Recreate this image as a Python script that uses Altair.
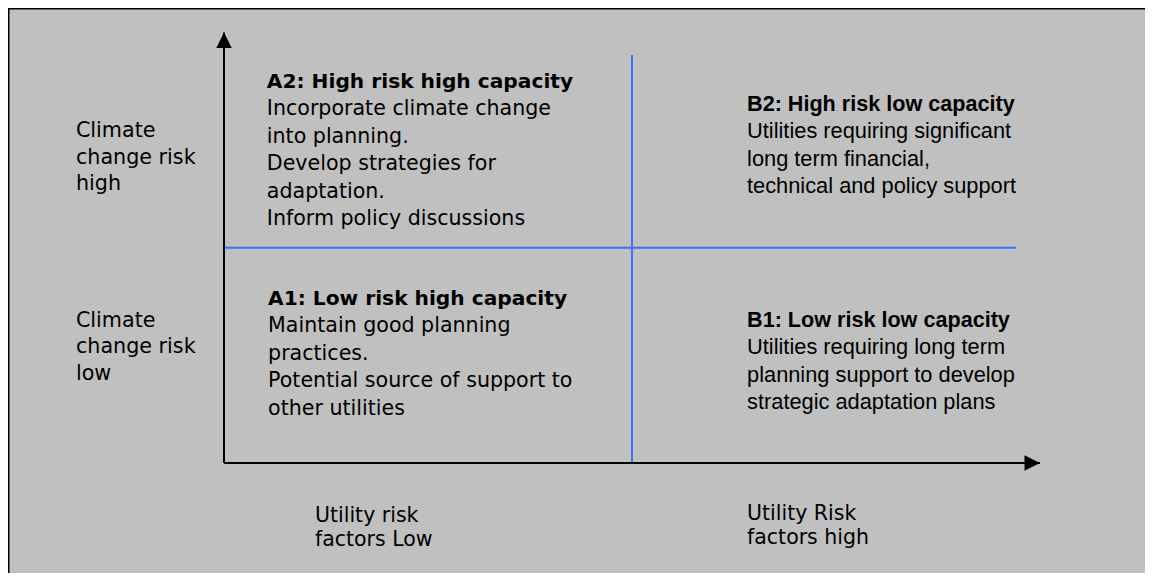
import altair as alt
import pandas as pd

# ---- diagram content (data units: axis origin = 0, quadrant split = 1, arrow tips = 2)
left_titles = ["A2: High risk high capacity", "A1: Low risk high capacity"]
left_bodies = [
    "Incorporate climate change\ninto planning.\nDevelop strategies for\nadaptation.\nInform policy discussions",
    "Maintain good planning\npractices.\nPotential source of support to\nother utilities",
]
left_x = [0.105, 0.108]
left_title_y = [1.742, 0.734]
left_body_y = [1.616, 0.608]

right_titles = ["B2: High risk low capacity", "B1: Low risk low capacity"]
right_bodies = [
    "Utilities requiring significant\nlong term financial,\ntechnical and policy support",
    "Utilities requiring long term\nplanning support to develop\nstrategic adaptation plans",
]
right_x = [1.282, 1.282]
right_title_y = [1.635, 0.632]
right_body_y = [1.510, 0.506]

y_labels = ["Climate\nchange risk\nhigh", "Climate\nchange risk\nlow"]
y_label_x = [-0.363, -0.363]
y_label_y = [1.514, 0.632]

x_labels = ["Utility risk\nfactors Low", "Utility Risk\nfactors high"]
x_label_x = [0.223, 1.282]
x_label_y = [-0.274, -0.265]

# axis segments (black) and quadrant dividers (blue)
axis_x = [0, 0]
axis_y = [0, 0]
axis_x2 = [0, 2]
axis_y2 = [2, 0]

div_x = [1, 0]
div_y = [0, 1]
div_x2 = [1, 1.941]
div_y2 = [1.895, 1]

arrow_x = [0, 2]
arrow_y = [2, 0]
arrow_shape = ["M0,0L-1,2L1,2Z", "M0,0L-2,-1L-2,1Z"]

W, H = 1137, 565
XDOM = [-0.5294, 2.2574]
YDOM = [-0.5109, 2.1133]
FONT = "DejaVu Sans"
FONT_R = "Liberation Sans"

xs = alt.Scale(domain=XDOM, nice=False, zero=False)
ys = alt.Scale(domain=YDOM, nice=False, zero=False)

def X(f):
    return alt.X(f, type="quantitative", scale=xs, axis=None)

def Y(f):
    return alt.Y(f, type="quantitative", scale=ys, axis=None)

axes_df = pd.DataFrame({"x": axis_x, "y": axis_y, "x2": axis_x2, "y2": axis_y2})
div_df = pd.DataFrame({"x": div_x, "y": div_y, "x2": div_x2, "y2": div_y2})
arrow_df = pd.DataFrame({"x": arrow_x, "y": arrow_y, "shape": arrow_shape})
lt_df = pd.DataFrame({"x": left_x, "y": left_title_y, "t": left_titles})
lb_df = pd.DataFrame({"x": left_x, "y": left_body_y, "t": left_bodies})
rt_df = pd.DataFrame({"x": right_x, "y": right_title_y, "t": right_titles})
rb_df = pd.DataFrame({"x": right_x, "y": right_body_y, "t": right_bodies})
ylab_df = pd.DataFrame({"x": y_label_x, "y": y_label_y, "t": y_labels})
xlab_df = pd.DataFrame({"x": x_label_x, "y": x_label_y, "t": x_labels})

dividers = alt.Chart(div_df).mark_rule(color="#3F6FFF", strokeWidth=2).encode(
    x=X("x"), y=Y("y"), x2="x2", y2="y2"
)
axes = alt.Chart(axes_df).mark_rule(color="black", strokeWidth=2).encode(
    x=X("x"), y=Y("y"), x2="x2", y2="y2"
)
arrows = alt.Chart(arrow_df).mark_point(
    filled=True, color="black", opacity=1, size=240, strokeWidth=0
).encode(
    x=X("x"), y=Y("y"),
    shape=alt.Shape("shape:N", scale=None, legend=None),
)

border_left = alt.Chart(axes_df.head(1)).mark_rule(color="black", strokeWidth=3).encode(
    x=alt.value(0), y=alt.value(0), y2=alt.value(H)
)
border_top = alt.Chart(axes_df.head(1)).mark_rule(color="black", strokeWidth=3).encode(
    x=alt.value(0), x2=alt.value(W), y=alt.value(0)
)

def text_layer(df, size, font=FONT, bold=False, line_height=None):
    kw = dict(align="left", baseline="alphabetic", font=font, fontSize=size, color="black")
    if bold:
        kw["fontWeight"] = "bold"
    if line_height is not None:
        kw["lineBreak"] = "\n"
        kw["lineHeight"] = line_height
    return alt.Chart(df).mark_text(**kw).encode(x=X("x"), y=Y("y"), text="t:N")

left_t = text_layer(lt_df, 20.2, bold=True)
left_b = text_layer(lb_df, 20.6, line_height=27.5)
right_t = text_layer(rt_df, 21.6, font=FONT_R, bold=True)
right_b = text_layer(rb_df, 21.8, font=FONT_R, line_height=27.7)
ylabs = text_layer(ylab_df, 20.7, line_height=26.5)
xlabs = text_layer(xlab_df, 20.5, line_height=24)

chart = alt.layer(
    dividers, axes, arrows, left_t, left_b, right_t, right_b, ylabs, xlabs,
    border_left, border_top
).properties(
    width=W, height=H, padding=0, background="#C0C0C0",
    autosize=alt.AutoSizeParams(type="none"),
).configure_view(strokeWidth=0)

chart.save("out.html", embed_options={"renderer": "svg", "actions": False})
